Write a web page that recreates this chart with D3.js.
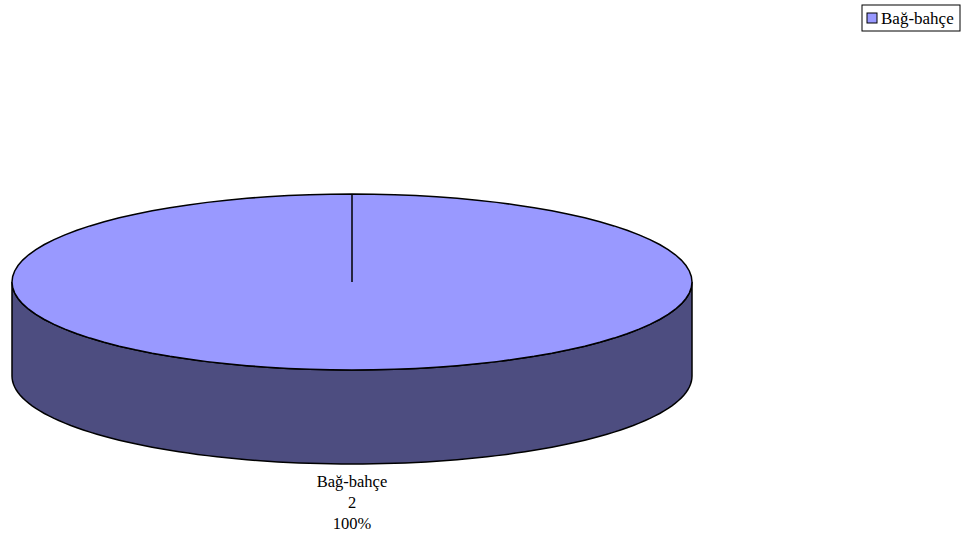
<!DOCTYPE html>
<html>
<head>
<meta charset="utf-8">
<script src="https://cdn.jsdelivr.net/npm/d3@7"></script>
<style>
  body { margin: 0; background: #fff; }
  svg { display: block; }
  text { font-family: "Liberation Serif", "Times New Roman", serif; }
</style>
</head>
<body>
<svg id="chart" width="967" height="540"></svg>
<script>
const categories = ['Bağ-bahçe'];
const values = [2];
const colors = ['#9999ff'];
const sideColors = ['#4d4d80'];

const svg = d3.select('#chart');

// pie geometry (tilted ellipse)
const cx = 352, cy = 282, rx = 340, ry = 88, depth = 94;

const pie = d3.pie().sort(null).value(d => d)(values);
const total = d3.sum(values);

// angle 0 = 12 o'clock, clockwise
const px = a => cx + rx * Math.sin(a);
const py = (a, dy = 0) => cy - ry * Math.cos(a) + dy;

function ellipseArc(a0, a1, dy) {
  return d3.range(0, 101).map(i => {
    const a = a0 + (a1 - a0) * i / 100;
    return [px(a), py(a, dy)];
  });
}

const line = d3.line();

// side wall (front half, from 3 o'clock to 9 o'clock)
const frontTop = ellipseArc(Math.PI / 2, Math.PI * 1.5, 0);
const frontBottom = ellipseArc(Math.PI * 1.5, Math.PI / 2, depth);
pie.forEach((s, i) => {
  svg.append('path')
    .attr('d', line(frontTop.concat(frontBottom)) + 'Z')
    .attr('fill', sideColors[i])
    .attr('stroke', '#000')
    .attr('stroke-width', 1.5);
});

// top face
pie.forEach((s, i) => {
  const pts = ellipseArc(s.startAngle, s.endAngle, 0);
  const d = (s.endAngle - s.startAngle) >= Math.PI * 2 - 1e-6
    ? line(pts) + 'Z'
    : 'M' + cx + ',' + cy + 'L' + line(pts).slice(1) + 'Z';
  svg.append('path')
    .attr('d', d)
    .attr('fill', colors[i])
    .attr('stroke', '#000')
    .attr('stroke-width', 1.5);
  // radial edge at slice start
  svg.append('line')
    .attr('x1', cx).attr('y1', cy)
    .attr('x2', px(s.startAngle)).attr('y2', py(s.startAngle))
    .attr('stroke', '#000')
    .attr('stroke-width', 1.5);
});

// data labels
pie.forEach((s, i) => {
  const mid = (s.startAngle + s.endAngle) / 2;
  const lx = px(mid), ly = py(mid, depth);
  const lines = [categories[i], String(values[i]), d3.format('.0%')(values[i] / total)];
  const t = svg.append('text')
    .attr('text-anchor', 'middle')
    .attr('font-size', 16.5)
    .attr('fill', '#000');
  lines.forEach((l, j) => {
    t.append('tspan').attr('x', lx).attr('y', ly + 23 + j * 21).text(l);
  });
});

// legend
const legend = svg.append('g').attr('transform', 'translate(862,5)');
legend.append('rect')
  .attr('width', 98).attr('height', 26)
  .attr('fill', '#fff').attr('stroke', '#000').attr('stroke-width', 1);
categories.forEach((c, i) => {
  legend.append('rect')
    .attr('x', 5).attr('y', 8 + i * 20).attr('width', 10).attr('height', 10)
    .attr('fill', colors[i]).attr('stroke', '#000').attr('stroke-width', 1);
  legend.append('text')
    .attr('x', 19).attr('y', 19 + i * 20)
    .attr('font-size', 17)
    .text(c);
});
</script>
</body>
</html>
